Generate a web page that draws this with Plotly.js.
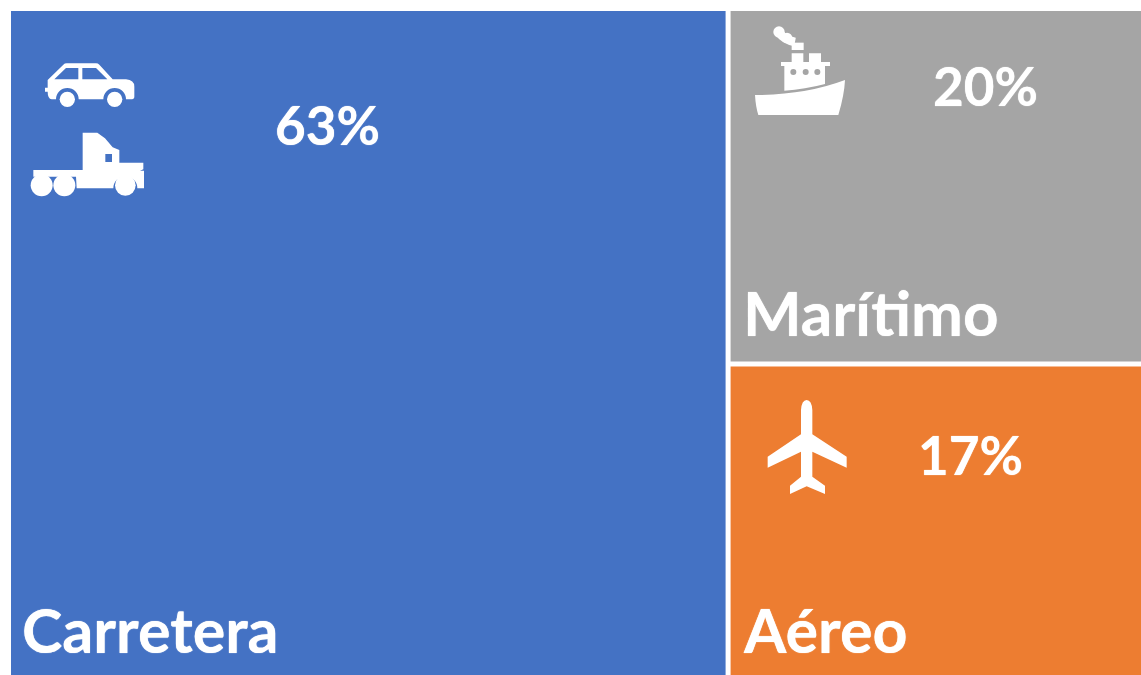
<!DOCTYPE html>
<html><head><meta charset="utf-8">
<script src="https://cdn.plot.ly/plotly-3.0.0.min.js"></script>
<style>html,body{margin:0;padding:0;background:#fff;overflow:hidden}</style>
</head><body><div id="chart" style="width:1141px;height:675px"></div>
<script>
const categories = ["Carretera", "Marítimo", "Aéreo"];
const shares = [63, 20, 17];
const tileAreas = [63.4, 19.45, 17.15];
const colors = ["#4472C4", "#A5A5A5", "#ED7D31"];
const W = 1141, H = 675, ML = 11, MT = 11;
const px = x => (x - ML) / (W - ML);
const py = y => 1 - (y - MT) / (H - MT);
const svgUri = (vw, vh, body) => "data:image/svg+xml;charset=utf-8," + encodeURIComponent(
  `<svg xmlns="http://www.w3.org/2000/svg" viewBox="0 0 ${vw} ${vh}" width="${vw}" height="${vh}">${body}</svg>`);

const roadIcon = svgUri(420, 495, `
<path fill="#fff" d="M75 143H83V120L130 74Q134 70 140 70H228Q234 70 238 74L278 118H318Q343 120 343 140V170Q343 178 332 178H318A34 34 0 0 0 250 178H176A34 34 0 0 0 108 178H95Q83 176 83 155H75Z"/>
<path fill="#4472C4" d="M103 118L138 84H175V118ZM187 84H228L262 118H187Z"/>
<circle cx="142" cy="178" r="23" fill="#fff"/><circle cx="284" cy="178" r="23" fill="#fff"/>
<path fill="#fff" d="M188 278H232L255 295L278 322L298 330V368H370V388L360 392H372V445H352A36 36 0 0 0 280 445H170L168 410H40V390H188Z"/>
<rect x="256" y="342" width="20" height="24" fill="#4472C4"/>
<circle cx="65" cy="436" r="33" fill="#fff"/><circle cx="133" cy="436" r="33" fill="#fff"/><circle cx="316" cy="436" r="31" fill="#fff"/>`);

const shipIcon = svgUri(330, 315, `
<path fill="#fff" d="M30 225Q180 225 300 180Q298 225 280 285H40Q32 260 30 225Z"/>
<path fill="#fff" d="M118 212V138H108V126H140V100H175V126H192V100H228V126H255V138H240V192Q180 208 118 212Z"/>
<circle cx="145" cy="156" r="9" fill="#A5A5A5"/><circle cx="182" cy="156" r="9" fill="#A5A5A5"/><circle cx="217" cy="156" r="9" fill="#A5A5A5"/>
<rect x="140" y="68" width="36" height="22" fill="#fff"/>
<circle cx="102" cy="36" r="17" fill="#fff"/><circle cx="126" cy="54" r="16" fill="#fff"/>
<path d="M104 40Q118 60 150 66" stroke="#fff" stroke-width="26" fill="none"/>`);

const planeIcon = svgUri(300, 315, `
<path fill="#fff" d="M138 45Q140 15 155 15Q170 15 172 45V118L275 185V218L172 170V245L210 272V297L155 274L105 297V272L138 245V170L38 218V185L138 118Z"/>`);

const img = (source, x, y, w, h) => ({source, xref:"paper", yref:"paper", x:px(x), y:py(y),
  sizex:w/(W-ML), sizey:h/(H-MT), xanchor:"left", yanchor:"top", sizing:"stretch", layer:"above"});
const note = (text, x, y, size, anchor) => ({text, xref:"paper", yref:"paper", x:px(x), y:py(y),
  xanchor:anchor, yanchor:"middle", showarrow:false,
  font:{family:"Lato, sans-serif", size, color:"#fff", weight:700, shadow:"0 0 1px #fff"}});

const trace = {
  type:"treemap", labels:categories, parents:categories.map(()=>""), values:tileAreas,
  textinfo:"none", hoverinfo:"label", sort:true,
  marker:{colors, line:{width:0}, pad:{t:0,l:0,r:0,b:0}},
  tiling:{pad:5, packing:"squarify"}, pathbar:{visible:false}
};
const layout = {
  width:W, height:H, margin:{l:ML,t:MT,r:0,b:0,pad:0}, paper_bgcolor:"#fff", showlegend:false,
  images:[img(roadIcon,20,40,140,165), img(shipIcon,745,20,110,105), img(planeIcon,755,395,100,105)],
  annotations:[
    note(shares[0]+"%",327,124,53,"center"), note(shares[1]+"%",985,86,53,"center"), note(shares[2]+"%",970,454,53,"center"),
    note(categories[0],20,629,61,"left"), note(categories[1],741,312,62,"left"), note(categories[2],741,629,61,"left")
  ]
};
Plotly.newPlot("chart",[trace],layout,{displayModeBar:false,responsive:false});
</script></body></html>
